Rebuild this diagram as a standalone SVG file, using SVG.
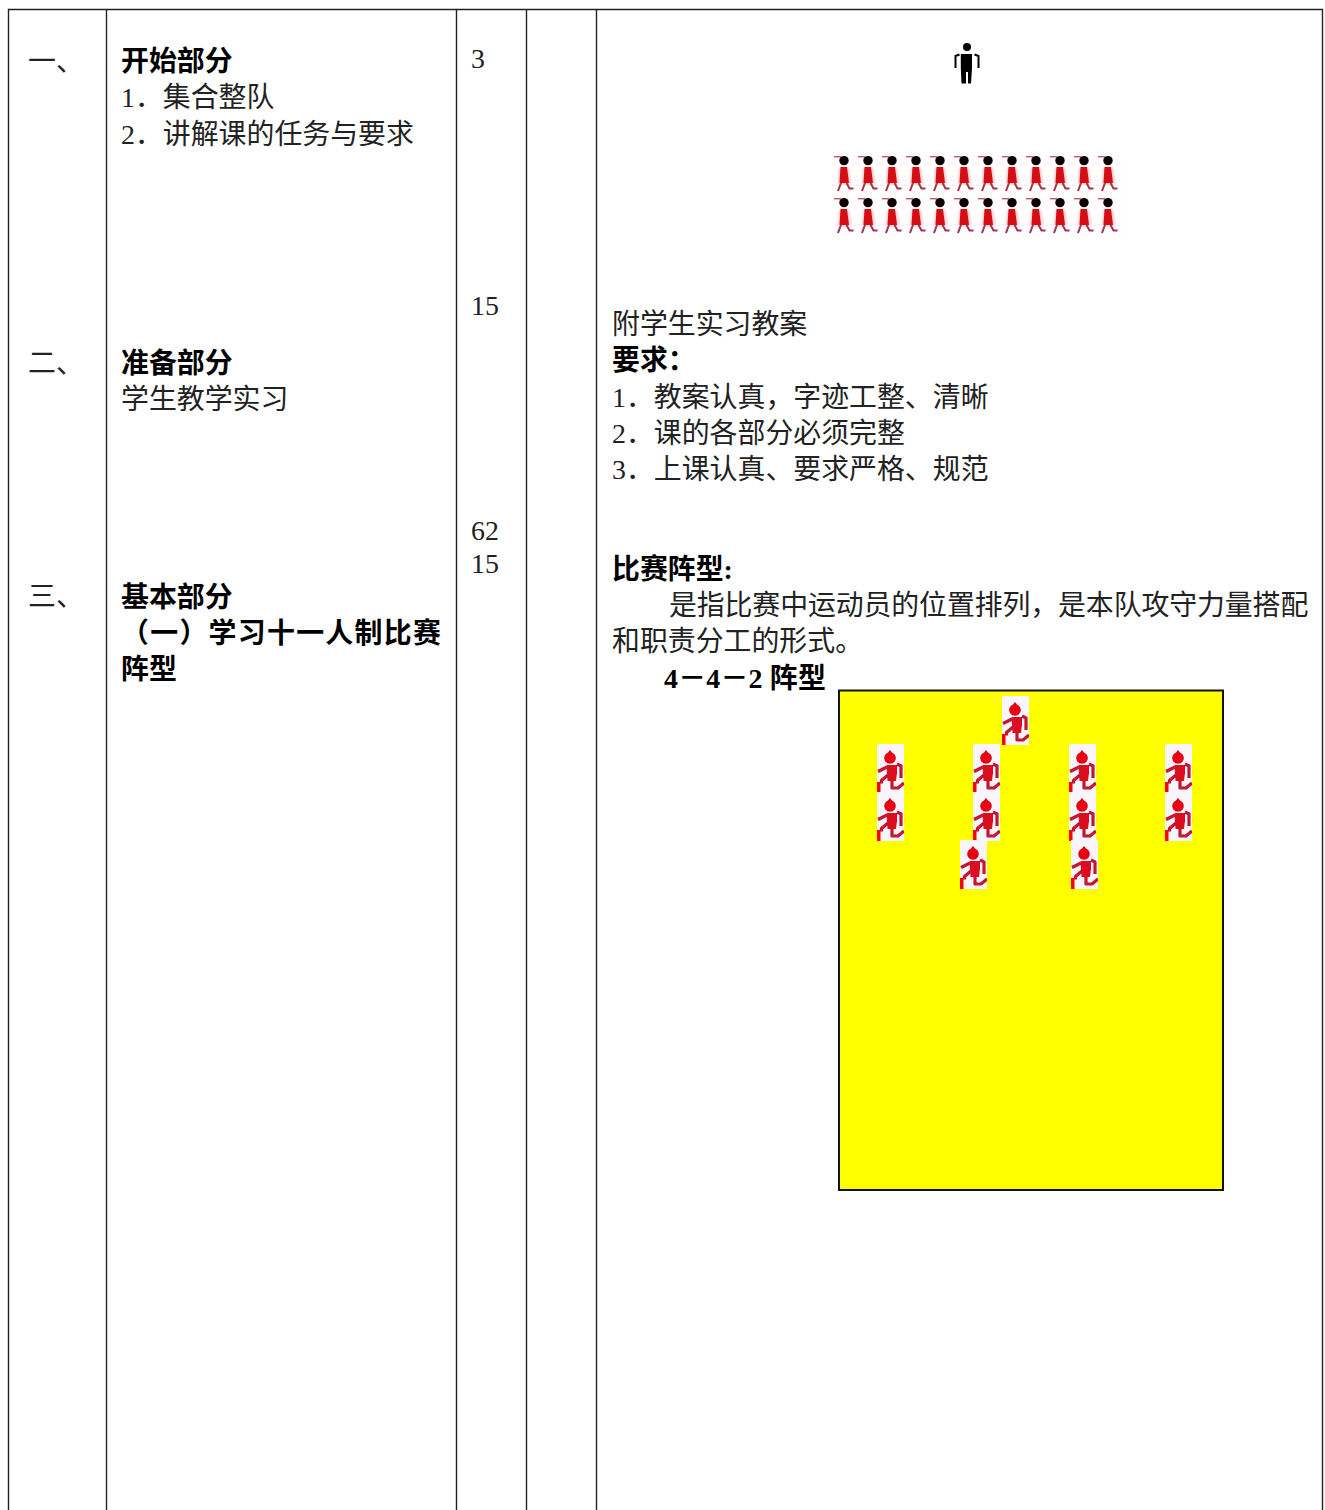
<svg xmlns="http://www.w3.org/2000/svg" xmlns:xlink="http://www.w3.org/1999/xlink" width="1325" height="1510" viewBox="0 0 1325 1510">
<style>
text{font-family:"Liberation Serif","Noto Sans CJK SC",serif;font-size:27.9px;fill:#222}
.b{font-weight:700;fill:#000}
.grid{fill:none;stroke:#222;stroke-width:1.4}
.pitch{fill:#ff0;stroke:#111;stroke-width:2}
.rl{fill:none;stroke:#c4142e;stroke-width:3.2;stroke-linejoin:round}
.sl{fill:none;stroke:#a5304a;stroke-width:2}
</style>
<defs>
<filter id="soft" x="-10%" y="-10%" width="120%" height="120%"><feGaussianBlur stdDeviation="0.35"/></filter>
<filter id="halo" x="-20%" y="-20%" width="140%" height="140%"><feGaussianBlur stdDeviation="1.2"/></filter>
<symbol id="runner" viewBox="0 0 27 49" width="27" height="49">
<rect width="27" height="49" fill="#f8f6fa"/>
<g filter="url(#soft)">
<path d="M13 6L15 8.500A5.800 5.800 0 1 1 11 8.500Z" fill="#e60012"/>
<path d="M9.500 21H20V29L19 37H10.500Z" fill="#dc1024"/>
<path class="rl" d="M10 23L1 27.500M20 20L24 22V34M11 31L4.500 36.500V39.500M15 36V44H21L27 39"/>
</g>
<rect y="38" width="3.500" height="11" fill="#f00"/>
</symbol>
<symbol id="student" viewBox="0 0 24 42" width="24" height="42">
<rect width="24" height="42" fill="#fffdfd"/>
<path d="M5 12H15L17 28H4Z" fill="#ffb0b0" filter="url(#halo)" opacity=".7"/>
<g filter="url(#soft)">
<rect y="0" width="7" height="1.400" fill="#d9506a"/>
<circle cx="10" cy="4.600" r="4.700" fill="#0a0505"/>
<path d="M6.500 11H13L15 27H5.500Z" fill="#d40f14"/>
<path class="sl" d="M7 27L4 35M12.500 27L15.500 32.500H19.500"/>
</g>
</symbol>
</defs>
<g id="table" class="grid">
<path d="M8.500 1510V9.500H1322.500V1510M106.500 9.500V1510M456.500 9.500V1510M526.500 9.500V1510M596.500 9.500V1510"/>
</g>
<g id="col-number">
<text x="28" y="71">一、</text>
<text x="28" y="373">二、</text>
<text x="28" y="606">三、</text>
</g>
<g id="col-content">
<text class="b" x="121" y="71">开始部分</text>
<text x="121" y="107">1．集合整队</text>
<text x="121" y="144">2．讲解课的任务与要求</text>
<text class="b" x="121" y="373">准备部分</text>
<text x="121" y="409">学生教学实习</text>
<text class="b" x="121" y="607">基本部分</text>
<text class="b" x="121" y="643" style="letter-spacing:1.3px">（一）学习十一人制比赛</text>
<text class="b" x="121" y="679">阵型</text>
</g>
<g id="col-time">
<text x="471" y="68">3</text>
<text x="471" y="315">15</text>
<text x="471" y="540">62</text>
<text x="471" y="573">15</text>
</g>
<g id="col-notes">
<text x="612" y="334">附学生实习教案</text>
<text class="b" x="612" y="370">要求：</text>
<text x="612" y="407">1．教案认真，字迹工整、清晰</text>
<text x="612" y="443">2．课的各部分必须完整</text>
<text x="612" y="479">3．上课认真、要求严格、规范</text>
<text class="b" x="612" y="579">比赛阵型:</text>
<text x="669" y="615" style="letter-spacing:-.1px">是指比赛中运动员的位置排列，是本队攻守力量搭配</text>
<text x="612" y="651">和职责分工的形式。</text>
<text class="b" x="664" y="688" style="letter-spacing:.2px">4－4－2 阵型</text>
</g>
<g id="teacher" filter="url(#soft)">
<circle cx="967" cy="47" r="4" fill="#000"/>
<path d="M960.800 54H972V68L971 83.500H968V72H966V83.500H961.500L960.800 68Z" fill="#000"/>
<path d="M955.500 68V56L959.500 54.500M978.500 68V56L974.500 54.500" fill="none" stroke="#000" stroke-width="2"/>
</g>
<g id="students">
<use href="#student" x="834" y="156"/><use href="#student" x="858" y="156"/><use href="#student" x="882" y="156"/><use href="#student" x="906" y="156"/><use href="#student" x="930" y="156"/><use href="#student" x="954" y="156"/><use href="#student" x="978" y="156"/><use href="#student" x="1002" y="156"/><use href="#student" x="1026" y="156"/><use href="#student" x="1050" y="156"/><use href="#student" x="1074" y="156"/><use href="#student" x="1098" y="156"/>
<use href="#student" x="834" y="198"/><use href="#student" x="858" y="198"/><use href="#student" x="882" y="198"/><use href="#student" x="906" y="198"/><use href="#student" x="930" y="198"/><use href="#student" x="954" y="198"/><use href="#student" x="978" y="198"/><use href="#student" x="1002" y="198"/><use href="#student" x="1026" y="198"/><use href="#student" x="1050" y="198"/><use href="#student" x="1074" y="198"/><use href="#student" x="1098" y="198"/>
</g>
<g id="formation">
<rect class="pitch" x="839" y="690.500" width="384" height="499.500"/>
<use href="#runner" x="1002" y="696"/>
<use href="#runner" x="877" y="744"/><use href="#runner" x="973" y="744"/><use href="#runner" x="1069" y="744"/><use href="#runner" x="1165" y="744"/>
<use href="#runner" x="877" y="792"/><use href="#runner" x="973" y="792"/><use href="#runner" x="1069" y="792"/><use href="#runner" x="1165" y="792"/>
<use href="#runner" x="960" y="840"/><use href="#runner" x="1071" y="840"/>
</g>
</svg>
